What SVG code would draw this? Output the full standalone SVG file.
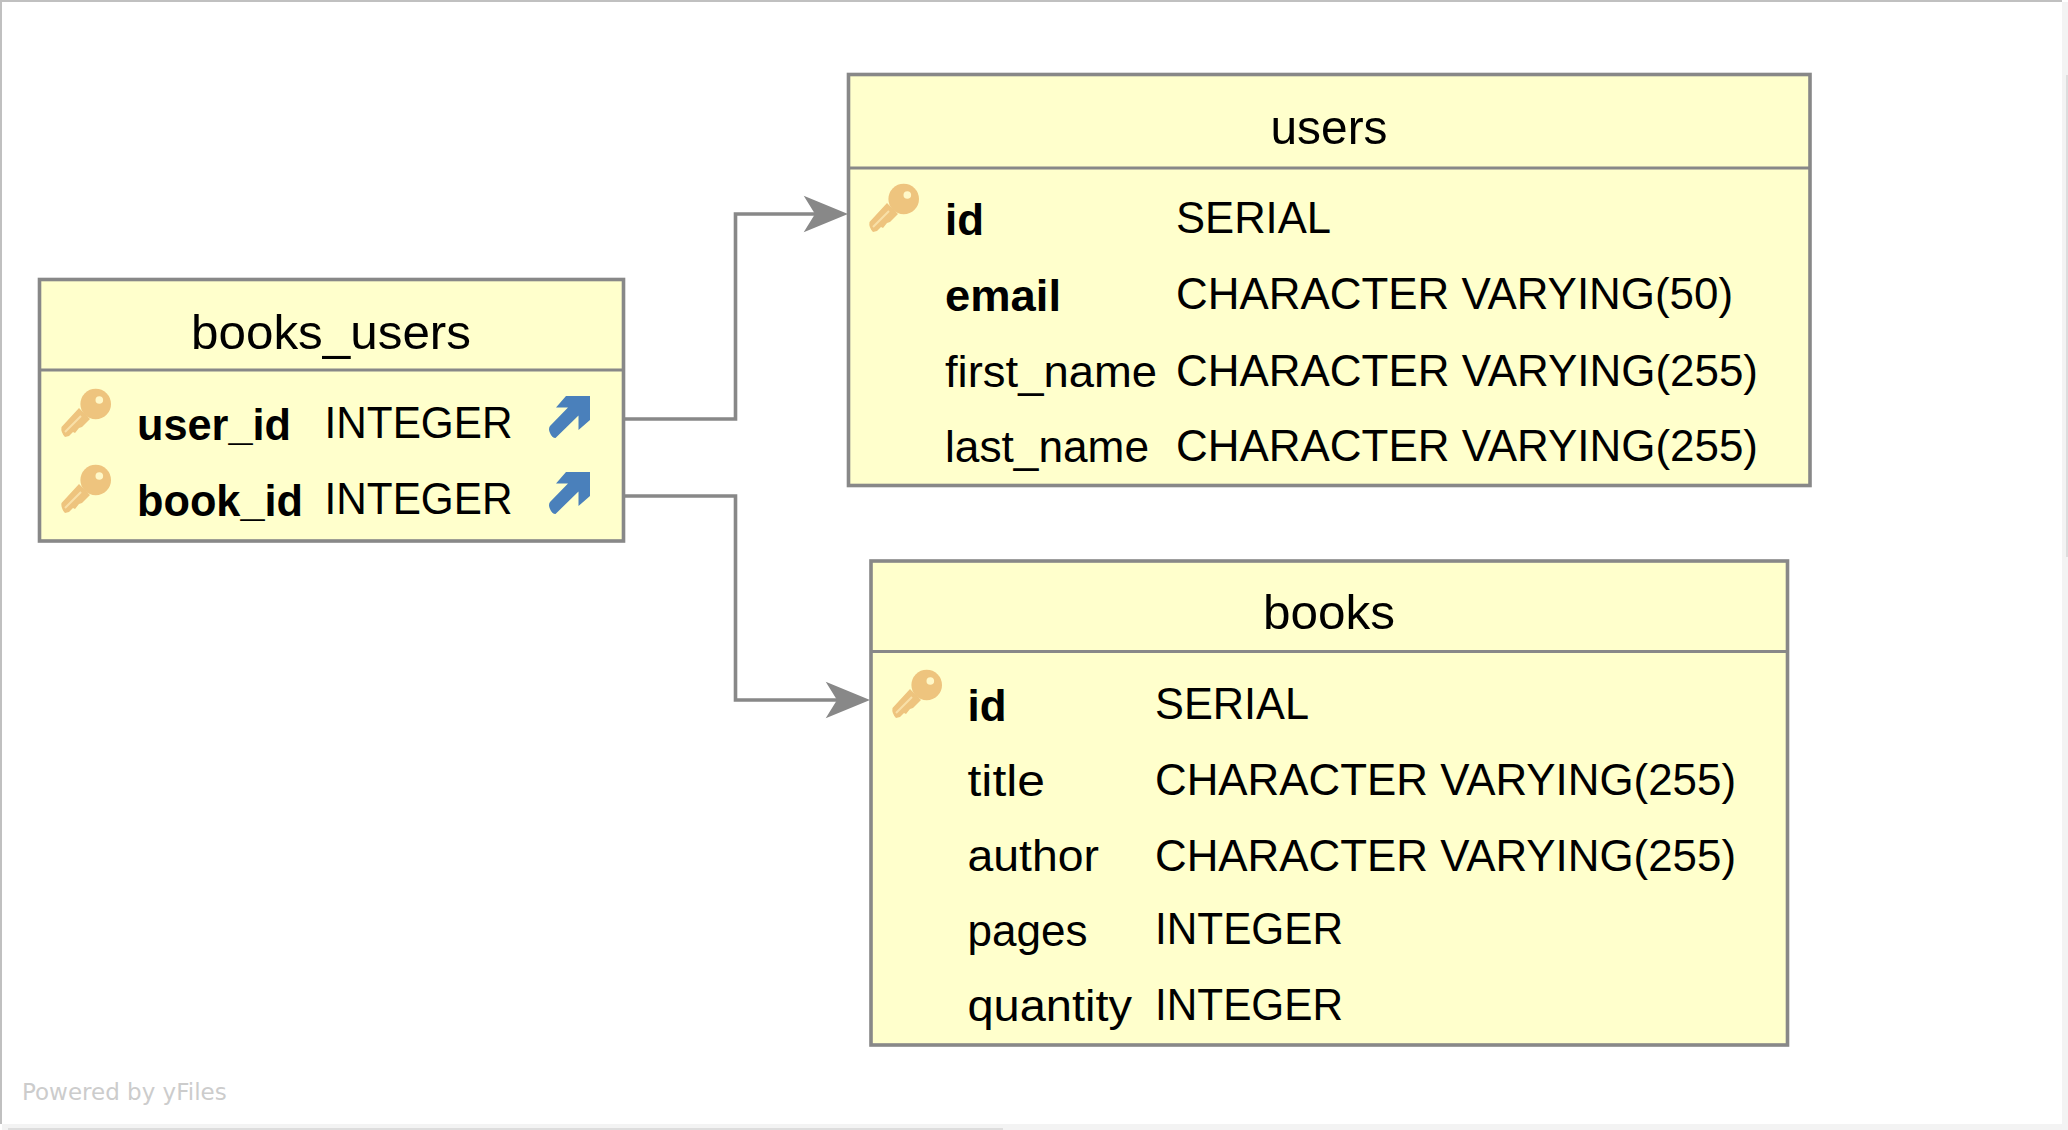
<svg xmlns="http://www.w3.org/2000/svg" width="2068" height="1130" viewBox="0 0 2068 1130">
<style>
.box{fill:#ffffcc;stroke:#888888;stroke-width:3.6}
.div{stroke:#888888;stroke-width:3.2}
.edge{fill:none;stroke:#888888;stroke-width:3.6}
.head{fill:#888888}
text{font-family:"Liberation Sans",Arial,sans-serif;fill:#000}
.t{font-size:49px;text-anchor:middle}
.n{font-size:45px}
.b{font-size:45px;font-weight:700}
</style>
<defs>
<g id="key">
<path fill="#eec47e" d="M24 28 L6.5 47 Q5.5 52 10 57 L14 56 L18 52 L20 53 L24 48 L27 47 L35 39 Z"/>
<circle cx="40.7" cy="24" r="15.3" fill="#eec47e"/>
<circle cx="44.3" cy="20" r="3.8" fill="#fff8c8"/>
<path d="M10 52 L26 36" stroke="#f8e0a8" stroke-width="2" fill="none"/>
</g>
<path id="fk" fill="#4a80bb" d="M16 22.5 L26 11 H50 V35 L38.5 45 V30.5 L15.5 53 Q12 53 10 48 Q8 44 10 41 L28 22.5 Z"/>
</defs>
<rect width="2068" height="1130" fill="#fff"/>
<g id="chrome">
<rect x="0" y="0" width="2062" height="2" fill="#c0c0c0"/>
<rect x="0" y="0" width="2" height="1124" fill="#c0c0c0"/>
<rect x="2062" y="2" width="6" height="1128" fill="#f3f3f3"/>
<rect x="2" y="1124" width="2066" height="6" fill="#f3f3f3"/>
<rect x="8" y="1128" width="995" height="2" fill="#dddddd"/>
<rect x="2066" y="75" width="2" height="482" fill="#dddddd"/>
<text x="22" y="1100" font-size="23" style="font-family:'DejaVu Sans',sans-serif;fill:#cccccc">Powered by yFiles</text>
</g>
<g id="connectors">
<path class="edge" d="M625 419 H735.5 V214 H820"/>
<path class="head" d="M848 214 L803.7 195.7 L815 214 L803.7 232.3 Z"/>
<path class="edge" d="M625 496 H735.5 V700 H842"/>
<path class="head" d="M870 700 L825.7 681.7 L837 700 L825.7 718.3 Z"/>
</g>
<g id="books_users">
<rect class="box" x="39.5" y="279.5" width="584" height="261.5"/>
<line class="div" x1="39.5" y1="370" x2="623.5" y2="370"/>
<text class="t" x="331" y="349" textLength="280" lengthAdjust="spacingAndGlyphs">books_users</text>
<use href="#key" x="55" y="380"/>
<use href="#key" x="55" y="456"/>
<text class="b" x="137" y="440" textLength="154" lengthAdjust="spacingAndGlyphs">user_id</text>
<text class="b" x="137" y="516" textLength="166" lengthAdjust="spacingAndGlyphs">book_id</text>
<text class="n" x="324.5" y="438" textLength="188" lengthAdjust="spacingAndGlyphs">INTEGER</text>
<text class="n" x="324.5" y="514" textLength="188" lengthAdjust="spacingAndGlyphs">INTEGER</text>
<use href="#fk" x="540" y="385"/>
<use href="#fk" x="540" y="461"/>
</g>
<g id="users">
<rect class="box" x="848.5" y="74.5" width="961.5" height="411"/>
<line class="div" x1="848.5" y1="168" x2="1810" y2="168"/>
<text class="t" x="1329" y="144" textLength="117" lengthAdjust="spacingAndGlyphs">users</text>
<use href="#key" x="863" y="175"/>
<text class="b" x="945" y="235" textLength="39" lengthAdjust="spacingAndGlyphs">id</text>
<text class="b" x="945" y="311" textLength="116" lengthAdjust="spacingAndGlyphs">email</text>
<text class="n" x="945" y="387" textLength="212" lengthAdjust="spacingAndGlyphs">first_name</text>
<text class="n" x="945" y="461.5" textLength="204" lengthAdjust="spacingAndGlyphs">last_name</text>
<text class="n" x="1176" y="233" textLength="155" lengthAdjust="spacingAndGlyphs">SERIAL</text>
<text class="n" x="1176" y="309" textLength="557" lengthAdjust="spacingAndGlyphs">CHARACTER VARYING(50)</text>
<text class="n" x="1176" y="385.5" textLength="582" lengthAdjust="spacingAndGlyphs">CHARACTER VARYING(255)</text>
<text class="n" x="1176" y="461" textLength="582" lengthAdjust="spacingAndGlyphs">CHARACTER VARYING(255)</text>
</g>
<g id="books">
<rect class="box" x="871" y="561" width="916.5" height="484"/>
<line class="div" x1="871" y1="651.5" x2="1787.5" y2="651.5"/>
<text class="t" x="1329" y="629" textLength="132" lengthAdjust="spacingAndGlyphs">books</text>
<use href="#key" x="886" y="661"/>
<text class="b" x="967.5" y="721" textLength="39" lengthAdjust="spacingAndGlyphs">id</text>
<text class="n" x="967.5" y="796" textLength="77.5" lengthAdjust="spacingAndGlyphs">title</text>
<text class="n" x="967.5" y="871" textLength="131.5" lengthAdjust="spacingAndGlyphs">author</text>
<text class="n" x="967.5" y="945.5" textLength="120" lengthAdjust="spacingAndGlyphs">pages</text>
<text class="n" x="967.5" y="1021" textLength="164.5" lengthAdjust="spacingAndGlyphs">quantity</text>
<text class="n" x="1155" y="719" textLength="154" lengthAdjust="spacingAndGlyphs">SERIAL</text>
<text class="n" x="1155" y="795" textLength="581" lengthAdjust="spacingAndGlyphs">CHARACTER VARYING(255)</text>
<text class="n" x="1155" y="870.5" textLength="581" lengthAdjust="spacingAndGlyphs">CHARACTER VARYING(255)</text>
<text class="n" x="1155" y="944" textLength="188" lengthAdjust="spacingAndGlyphs">INTEGER</text>
<text class="n" x="1155" y="1019.5" textLength="188" lengthAdjust="spacingAndGlyphs">INTEGER</text>
</g>
</svg>
